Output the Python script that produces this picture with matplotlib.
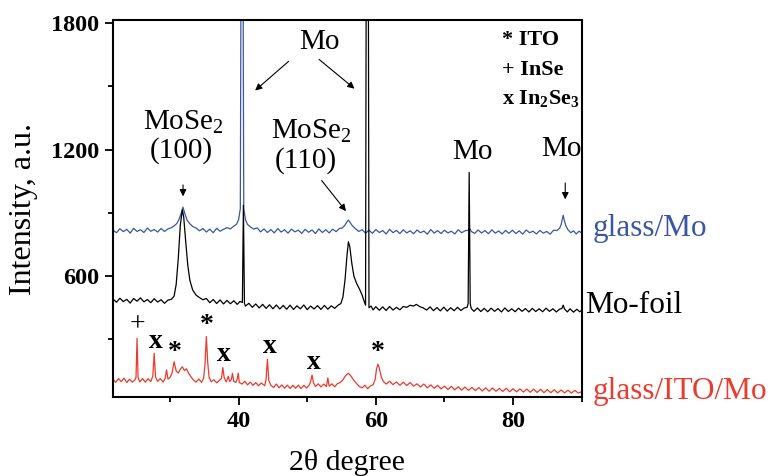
import numpy as np
import matplotlib
matplotlib.use('Agg')
import matplotlib.pyplot as plt

plt.rcParams['font.family'] = ['Liberation Serif', 'DejaVu Serif']
plt.rcParams['mathtext.fontset'] = 'custom'
plt.rcParams['mathtext.rm'] = 'Liberation Serif'
plt.rcParams['mathtext.bf'] = 'Liberation Serif:bold'

# glass/Mo  (blue)
mo_glass_x = [21.7, 22.2, 22.7, 23.2, 23.7, 24.2, 24.7, 25.2, 25.7, 26.2, 26.7, 27.2, 27.7, 28.2,
              28.7, 29.2, 29.7, 30.2, 30.6, 31.0, 31.3, 31.6, 31.9, 32.2, 32.5, 32.9, 33.3, 33.8,
              34.3, 34.8, 35.3, 35.8, 36.3, 36.8, 37.3, 37.8, 38.3, 38.8, 39.3, 39.7, 40.0, 40.25,
              40.4, 40.6, 40.75, 41.0, 41.3, 41.7, 42.2, 42.7, 43.2, 43.7, 44.2, 44.7, 45.2, 45.7,
              46.2, 46.7, 47.2, 47.7, 48.2, 48.7, 49.2, 49.7, 50.2, 50.7, 51.2, 51.7, 52.2, 52.7,
              53.2, 53.7, 54.2, 54.7, 55.1, 55.5, 55.8, 56.0, 56.3, 56.6, 57.0, 57.5, 58.0, 58.5,
              59.0, 59.5, 60.0, 60.5, 61.0, 61.5, 62.0, 62.5, 63.0, 63.5, 64.0, 64.5, 65.0, 65.5,
              66.0, 66.5, 67.0, 67.5, 68.0, 68.5, 69.0, 69.5, 70.0, 70.5, 71.0, 71.5, 72.0, 72.5,
              73.0, 73.5, 73.7, 73.9, 74.4, 74.9, 75.4, 75.9, 76.4, 76.9, 77.4, 77.9, 78.4, 78.9,
              79.4, 79.9, 80.4, 80.9, 81.4, 81.9, 82.4, 82.9, 83.4, 83.9, 84.4, 84.9, 85.4, 85.9,
              86.4, 86.8, 87.0, 87.15, 87.3, 87.45, 87.7, 88.0, 88.4, 88.8, 89.2, 89.6, 90.0]
mo_glass_y = [818, 806, 825, 811, 822, 804, 827, 812, 820, 807, 828, 813, 821, 809,
              826, 812, 824, 830, 838, 850, 868, 895, 927, 893, 865, 848, 836, 828,
              815, 826, 809, 823, 806, 827, 813, 822, 830, 824, 837, 846, 868, 920,
              2600, 2600, 920, 868, 845, 834, 823, 829, 810, 824, 807, 821, 805, 826,
              809, 820, 804, 823, 810, 818, 803, 822, 808, 819, 802, 824, 807, 820,
              805, 823, 811, 826, 828, 842, 858, 866, 852, 838, 826, 812, 820, 804,
              818, 803, 821, 807, 816, 800, 822, 806, 817, 802, 820, 805, 815, 801,
              819, 806, 814, 799, 821, 804, 816, 802, 818, 805, 813, 800, 820, 806,
              815, 818, 826, 812, 803, 819, 805, 816, 801, 820, 804, 814, 800, 817,
              803, 818, 802, 815, 799, 819, 806, 813, 800, 817, 804, 812, 799, 818,
              816, 828, 845, 868, 889, 866, 838, 820, 806, 815, 800, 813, 805]

# Mo-foil  (black)
mo_foil_x = [21.7, 22.2, 22.7, 23.2, 23.7, 24.2, 24.7, 25.2, 25.7, 26.2, 26.7, 27.2, 27.7, 28.2,
             28.7, 29.2, 29.7, 30.2, 30.6, 30.9, 31.2, 31.5, 31.8, 32.0, 32.3, 32.6, 32.9, 33.3,
             33.8, 34.3, 34.8, 35.3, 35.8, 36.3, 36.8, 37.3, 37.8, 38.3, 38.8, 39.3, 39.8, 40.2,
             40.55, 40.7, 40.85, 41.0, 41.5, 42.0, 42.5, 43.0, 43.5, 44.0, 44.5, 45.0, 45.5, 46.0,
             46.5, 47.0, 47.5, 48.0, 48.5, 49.0, 49.5, 50.0, 50.5, 51.0, 51.5, 52.0, 52.5, 53.0,
             53.5, 54.0, 54.5, 54.9, 55.2, 55.5, 55.8, 56.0, 56.2, 56.5, 56.8, 57.2, 57.6, 58.0,
             58.3, 58.5, 58.65, 58.85, 59.0, 59.3, 59.6, 60.0, 60.5, 61.0, 61.5, 62.0, 62.5, 63.0,
             63.5, 64.0, 64.5, 65.0, 65.5, 65.9, 66.4, 66.9, 67.4, 67.9, 68.4, 68.9, 69.4, 69.9,
             70.4, 70.9, 71.4, 71.9, 72.4, 72.9, 73.3, 73.45, 73.6, 73.75, 73.9, 74.3, 74.8, 75.3,
             75.8, 76.3, 76.8, 77.3, 77.8, 78.3, 78.8, 79.3, 79.8, 80.3, 80.8, 81.3, 81.8, 82.3,
             82.8, 83.3, 83.8, 84.3, 84.8, 85.3, 85.8, 86.3, 86.8, 87.1, 87.3, 87.5, 87.9, 88.3,
             88.8, 89.3, 89.7, 90.0]
mo_foil_y = [492, 476, 495, 479, 490, 472, 494, 481, 497, 478, 489, 474, 493, 477,
             488, 471, 486, 490, 505, 560, 680, 840, 915, 880, 760, 650, 580, 535,
             510, 498, 488, 494, 474, 489, 470, 487, 468, 485, 469, 483, 466, 480,
             475, 936, 470, 458, 471, 452, 468, 449, 466, 447, 464, 445, 463, 444,
             461, 443, 462, 442, 459, 445, 463, 441, 458, 444, 460, 442, 461, 443,
             459, 447, 462, 470, 500, 580, 700, 763, 740, 660, 600, 565, 540, 510,
             480, 462, 3000, 3000, 450, 458, 440, 455, 438, 454, 437, 456, 439, 452,
             440, 456, 452, 462, 458, 466, 455, 449, 439, 454, 436, 451, 435, 453,
             434, 450, 436, 452, 437, 449, 452, 470, 1092, 470, 446, 433, 449, 432,
             447, 431, 448, 433, 446, 430, 449, 432, 445, 431, 448, 433, 446, 430,
             447, 432, 445, 431, 448, 433, 445, 430, 444, 446, 462, 444, 430, 445,
             429, 443, 431, 437]

# glass/ITO/Mo  (red)
mo_ito_x = [21.7, 22.1, 22.5, 22.9, 23.3, 23.7, 24.1, 24.5, 24.9, 25.05, 25.2, 25.35, 25.6, 26.0,
            26.4, 26.8, 27.2, 27.5, 27.7, 27.9, 28.2, 28.6, 29.0, 29.3, 29.5, 29.7, 30.0, 30.3,
            30.6, 30.9, 31.2, 31.5, 31.8, 32.1, 32.4, 32.7, 33.0, 33.4, 33.8, 34.2, 34.6, 34.9,
            35.1, 35.3, 35.5, 35.7, 36.0, 36.4, 36.8, 37.2, 37.5, 37.7, 37.9, 38.2, 38.5, 38.7,
            38.95, 39.1, 39.3, 39.6, 39.8, 39.95, 40.1, 40.5, 40.9, 41.3, 41.7, 42.1, 42.5, 42.9,
            43.3, 43.8, 44.0, 44.2, 44.4, 44.7, 45.1, 45.5, 45.9, 46.3, 46.7, 47.1, 47.5, 47.9,
            48.3, 48.7, 49.1, 49.5, 49.9, 50.3, 50.5, 50.7, 50.9, 51.2, 51.6, 52.0, 52.4, 52.8,
            53.0, 53.2, 53.6, 54.0, 54.4, 54.8, 55.2, 55.6, 56.0, 56.4, 56.8, 57.2, 57.6, 58.0,
            58.4, 58.8, 59.2, 59.6, 59.9, 60.1, 60.3, 60.5, 60.8, 61.1, 61.5, 62.0, 62.5, 63.0,
            63.5, 64.0, 64.5, 65.0, 65.5, 66.0, 66.5, 67.0, 67.5, 68.0, 68.5, 69.0, 69.5, 70.0,
            70.5, 71.0, 71.5, 72.0, 72.5, 73.0, 73.5, 74.0, 74.5, 75.0, 75.5, 76.0, 76.5, 77.0,
            77.5, 78.0, 78.5, 79.0, 79.5, 80.0, 80.5, 81.0, 81.5, 82.0, 82.5, 83.0, 83.5, 84.0,
            84.5, 85.0, 85.5, 86.0, 86.5, 87.0, 87.5, 88.0, 88.5, 89.0, 89.5, 90.0]
mo_ito_y = [110, 96, 114, 99, 116, 95, 111, 97, 108, 120, 305, 118, 98, 114,
            97, 113, 100, 125, 234, 120, 101, 114, 97, 115, 155, 112, 118, 140,
            194, 150, 140, 158, 170, 152, 160, 140, 125, 108, 97, 112, 96, 115,
            180, 313, 190, 120, 99, 108, 94, 105, 115, 166, 118, 98, 125, 100,
            110, 139, 100, 96, 112, 140, 95, 88, 101, 84, 97, 82, 95, 80,
            93, 80, 110, 206, 105, 82, 72, 88, 70, 84, 68, 83, 67, 82,
            68, 83, 66, 82, 69, 84, 100, 131, 95, 76, 89, 74, 88, 76,
            117, 78, 89, 75, 90, 95, 108, 128, 139, 125, 105, 90, 76, 70,
            82, 66, 79, 84, 110, 160, 182, 165, 120, 100, 88, 101, 85, 98,
            82, 97, 81, 95, 78, 89, 74, 88, 70, 84, 68, 82, 65, 78,
            62, 77, 60, 75, 59, 74, 58, 72, 57, 71, 55, 70, 54, 69,
            54, 67, 53, 68, 51, 66, 51, 65, 50, 64, 49, 64, 48, 63,
            47, 62, 47, 61, 46, 60, 46, 59, 45, 58, 45, 52]

blue = '#3a56a5'
red = '#ec3a2e'

fig = plt.figure(figsize=(7.71, 4.76), dpi=100)
ax = fig.add_axes([0.1466, 0.1653, 0.6079, 0.7926])

ax.plot(mo_glass_x, mo_glass_y, color=blue, lw=0.9)
ax.plot(mo_foil_x, mo_foil_y, color='black', lw=0.9)
ax.plot(mo_ito_x, mo_ito_y, color=red, lw=0.9)

ax.set_xlim(21.7, 90)
ax.set_ylim(25, 1815)
ax.set_xticks([40, 60, 80])
ax.set_xticks([30, 50, 70, 90], minor=True)
ax.set_yticks([600, 1200, 1800])
ax.set_yticks([300, 900, 1500], minor=True)
for s in ax.spines.values():
    s.set_linewidth(1.5)
ax.tick_params(which='major', length=6, width=1.3, labelsize=17.5, pad=4)
ax.tick_params(which='minor', length=3.5, width=1.3)
for lab in ax.get_xticklabels() + ax.get_yticklabels():
    lab.set_fontweight('bold')

ax.set_xlabel('2θ degree', fontsize=21.5, labelpad=12)
ax.set_ylabel('Intensity, a.u.', fontsize=23, labelpad=9)

# peak annotations
ax.text(51.85, 1709, 'Mo', fontsize=21, ha='center', va='center')
arr = dict(arrowstyle='-|>', color='black', lw=0.8, mutation_scale=10)
ax.annotate('', xy=(42.1, 1472), xytext=(47.6, 1628), arrowprops=arr)
ax.annotate('', xy=(57.2, 1481), xytext=(51.4, 1637), arrowprops=arr)

ax.text(31.9, 1330, 'MoSe$_2$', fontsize=21, ha='center', va='center')
ax.text(31.6, 1196, '(100)', fontsize=21, ha='center', va='center')
ax.annotate('', xy=(31.9, 965), xytext=(31.9, 1046), arrowprops=arr)

ax.text(50.6, 1290, 'MoSe$_2$', fontsize=21, ha='center', va='center')
ax.text(49.8, 1149, '(110)', fontsize=21, ha='center', va='center')
ax.annotate('', xy=(55.9, 898), xytext=(51.85, 1064), arrowprops=arr)

ax.text(74.1, 1187, 'Mo', fontsize=21, ha='center', va='center')
ax.text(87.0, 1201, 'Mo', fontsize=21, ha='center', va='center')
ax.annotate('', xy=(87.6, 951), xytext=(87.6, 1055), arrowprops=arr)

# phase key
ax.text(78.4, 1718, '* ITO', fontsize=16, fontweight='bold', va='center')
ax.text(78.4, 1576, '+ InSe', fontsize=16, fontweight='bold', va='center')
ax.text(78.4, 1440, r'x In$_\mathbf{2}$Se$_\mathbf{3}$', fontsize=16, fontweight='bold', va='center')

# phase markers over glass/ITO/Mo peaks
marks = [('+', 25.3, 368), ('x', 27.9, 292), ('*', 30.7, 240), ('*', 35.4, 368),
         ('x', 37.9, 230), ('x', 44.6, 264), ('x', 51.0, 188), ('*', 60.3, 240)]
for m, mx, my in marks:
    ax.text(mx, my, m, fontsize=20, fontweight='normal' if m == '+' else 'bold',
            ha='center', va='center')

# series labels
ax.text(91.65, 828, 'glass/Mo', fontsize=22.5, color=blue, va='center', clip_on=False)
ax.text(90.5, 463, 'Mo-foil', fontsize=22.5, color='black', va='center', clip_on=False)
ax.text(91.65, 52, 'glass/ITO/Mo', fontsize=22.5, color=red, va='center', clip_on=False)

fig.savefig('out.png', dpi=100)
